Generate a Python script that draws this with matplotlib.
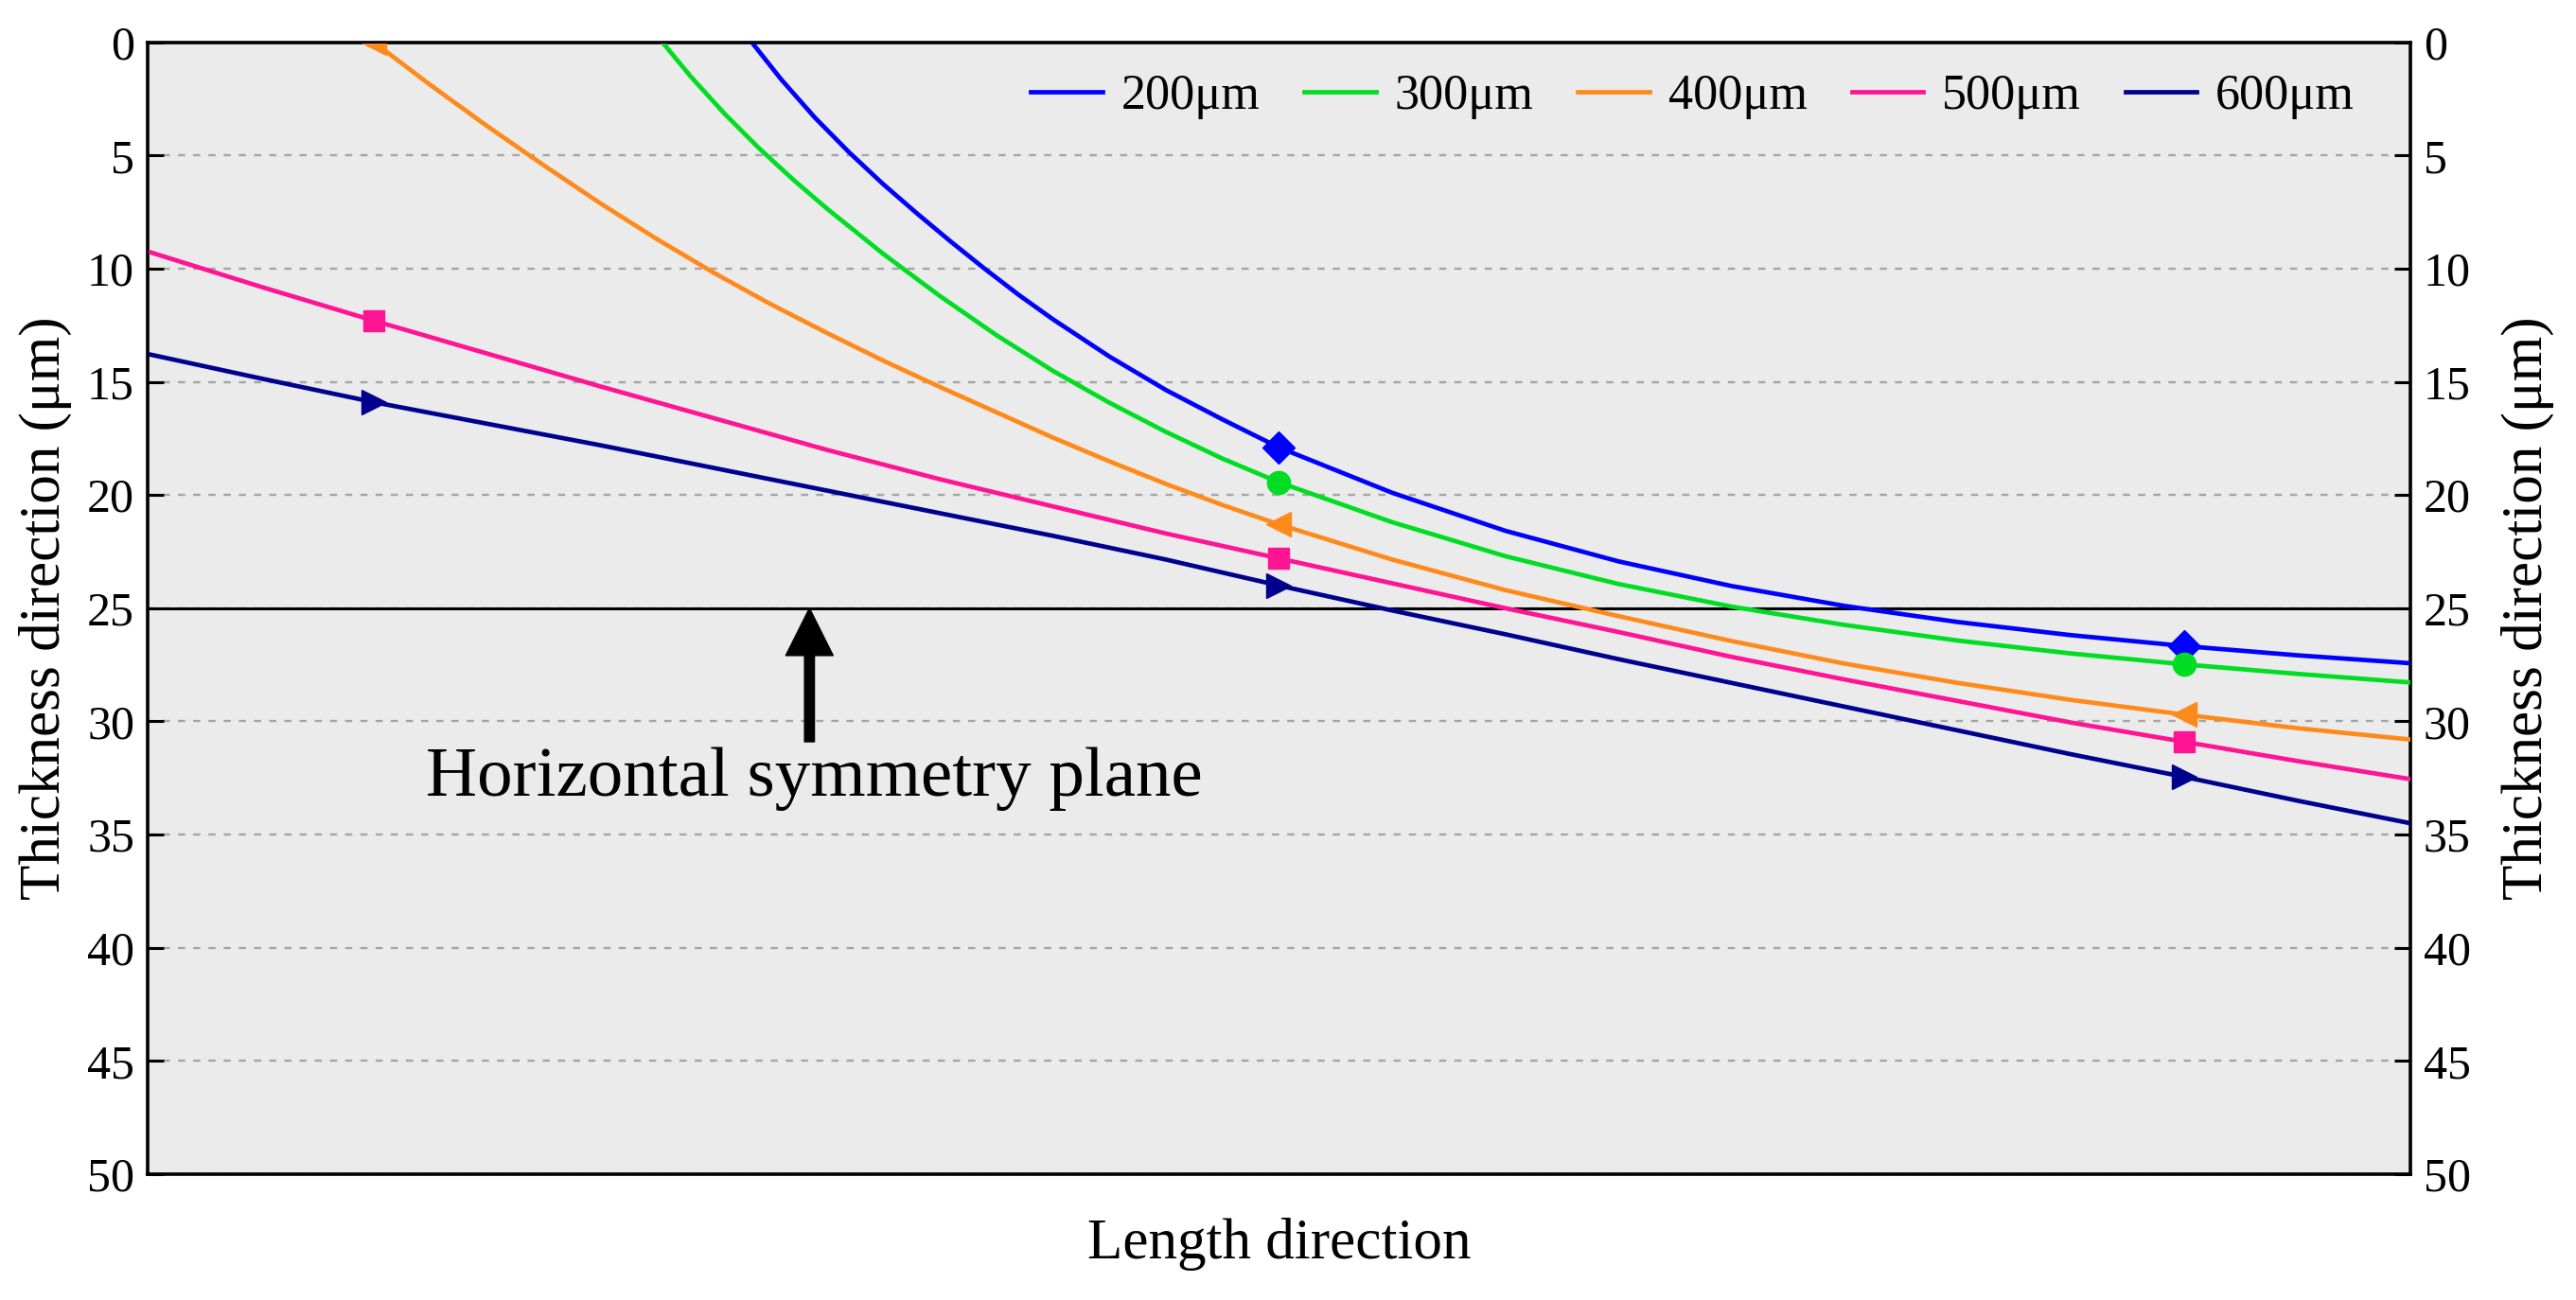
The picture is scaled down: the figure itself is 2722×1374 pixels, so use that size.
import matplotlib
matplotlib.use('Agg')
import matplotlib.pyplot as plt
from matplotlib.lines import Line2D

plt.rcParams['font.family'] = ['Liberation Serif', 'DejaVu Serif']

# positions along the length direction (0 = left edge, 1 = right edge)
x_200 = [0.267, 0.28, 0.295, 0.31, 0.325, 0.34, 0.355, 0.37, 0.385, 0.4, 0.425, 0.45, 0.475, 0.5,
         0.55, 0.6, 0.65, 0.7, 0.75, 0.8, 0.85, 0.9, 0.95, 1.0]
y_200 = [0.0, 1.64, 3.34, 4.86, 6.26, 7.56, 8.81, 10.01, 11.16, 12.23, 13.88, 15.36, 16.66, 17.9,
         19.9, 21.58, 22.93, 24.02, 24.9, 25.61, 26.19, 26.67, 27.08, 27.43]

x_300 = [0.2275, 0.24, 0.255, 0.27, 0.285, 0.3, 0.325, 0.35, 0.375, 0.4, 0.425, 0.45, 0.475, 0.5,
         0.55, 0.6, 0.65, 0.7, 0.75, 0.8, 0.85, 0.9, 0.95, 1.0]
y_300 = [0.0, 1.51, 3.16, 4.66, 6.04, 7.33, 9.34, 11.2, 12.93, 14.51, 15.92, 17.21, 18.39, 19.44,
         21.2, 22.7, 23.93, 24.93, 25.74, 26.43, 27.0, 27.48, 27.9, 28.28]

x_400 = [0.1, 0.125, 0.15, 0.175, 0.2, 0.225, 0.25, 0.275, 0.3, 0.325, 0.35, 0.375, 0.4, 0.425,
         0.45, 0.475, 0.5, 0.55, 0.6, 0.65, 0.7, 0.75, 0.8, 0.85, 0.9, 0.95, 1.0]
y_400 = [0.0, 1.89, 3.7, 5.43, 7.11, 8.69, 10.17, 11.55, 12.83, 14.06, 15.22, 16.34, 17.46, 18.51,
         19.51, 20.44, 21.3, 22.85, 24.2, 25.35, 26.45, 27.45, 28.3, 29.05, 29.7, 30.3, 30.8]

x_500 = [0.0, 0.05, 0.1, 0.15, 0.2, 0.25, 0.3, 0.35, 0.4, 0.45, 0.5,
         0.55, 0.6, 0.65, 0.7, 0.75, 0.8, 0.85, 0.9, 0.95, 1.0]
y_500 = [9.24, 10.8, 12.3, 13.75, 15.2, 16.6, 18.0, 19.3, 20.5, 21.7, 22.8,
         23.9, 25.0, 26.05, 27.15, 28.15, 29.1, 30.05, 30.9, 31.75, 32.55]

x_600 = [0.0, 0.05, 0.1, 0.15, 0.2, 0.25, 0.3, 0.35, 0.4, 0.45, 0.5,
         0.55, 0.6, 0.65, 0.7, 0.75, 0.8, 0.85, 0.9, 0.95, 1.0]
y_600 = [13.77, 14.85, 15.9, 16.85, 17.8, 18.8, 19.8, 20.8, 21.8, 22.85, 24.0,
         25.1, 26.15, 27.25, 28.3, 29.35, 30.4, 31.45, 32.45, 33.5, 34.5]

mark_x = [0.1, 0.5, 0.9]

labels = ['200μm', '300μm', '400μm', '500μm', '600μm']
colors = ['#0000FF', '#00DD22', '#FF8A1C', '#FF1493', '#00008F']
markers = ['D', 'o', '<', 's', '>']
msizes = [17, 17.5, 19, 16, 19]
series = [(x_200, y_200), (x_300, y_300), (x_400, y_400), (x_500, y_500), (x_600, y_600)]

y_ticks = [0, 5, 10, 15, 20, 25, 30, 35, 40, 45, 50]
plane_y = 25

fig = plt.figure(figsize=(27.22, 13.74), dpi=100)
ax = fig.add_axes([0.0573, 0.0968, 0.8784, 0.8707])
ax.set_facecolor('#EBEBEB')

for (xs, ys), lab, c, m, ms in zip(series, labels, colors, markers, msizes):
    idx = [i for i, v in enumerate(xs) if v in mark_x]
    ax.plot(xs, ys, color=c, lw=3.4, marker=m, ms=ms, markevery=idx,
            label=lab, zorder=3)

ax.set_xlim(0, 1)
ax.set_ylim(50, 0)
ax.set_xticks([])
ax.set_yticks(y_ticks)
ax.yaxis.grid(True, linestyle=(0, (3.2, 3.6)), color='#A5A5A5', lw=1.7)
ax.axhline(plane_y, color='black', lw=2.2, zorder=2)

ax.tick_params(axis='y', direction='in', length=12, width=2.2, labelsize=36, pad=10)
ax.set_xlabel('Length direction', fontsize=44, labelpad=33)
ax.set_ylabel('Thickness direction (μm)', fontsize=44)
ax.yaxis.set_label_coords(-0.0335, 0.5)
for sp in ax.spines.values():
    sp.set_linewidth(2.6)

ax2 = ax.twinx()
ax2.set_ylim(50, 0)
ax2.set_yticks(y_ticks)
ax2.tick_params(axis='y', direction='in', length=12, width=2.2, labelsize=36, pad=10)
ax2.set_ylabel('Thickness direction (μm)', fontsize=44, rotation=90)
ax2.yaxis.set_label_coords(1.040, 0.5)

# arrow + text marking the symmetry plane
ax.annotate('', xy=(0.2925, plane_y), xytext=(0.2925, 30.9),
            arrowprops=dict(facecolor='black', edgecolor='black', width=7.5,
                            headwidth=36, headlength=36, shrink=0))
ax.text(0.2944, 33.3, 'Horizontal symmetry plane', ha='center', va='baseline',
        fontsize=54)

handles = [Line2D([], [], color=c, lw=3.4) for c in colors]
ax.legend(handles, labels, loc='upper right', ncol=5, frameon=False,
          fontsize=37.5, handlelength=1.45, handletextpad=0.38,
          columnspacing=0.9, borderpad=0, borderaxespad=0,
          bbox_to_anchor=(0.9753, 0.972))

fig.savefig('out.png', dpi=100)
